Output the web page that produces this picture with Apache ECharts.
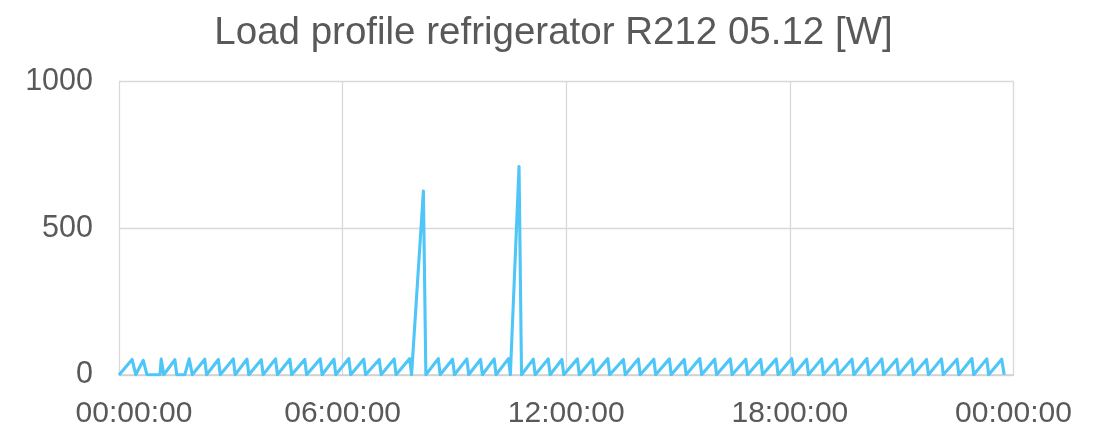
<!DOCTYPE html>
<html>
<head>
<meta charset="utf-8">
<script src="https://cdn.jsdelivr.net/npm/echarts@6/dist/echarts.min.js"></script>
<style>
  html, body { margin: 0; padding: 0; background: #fff; }
  #chart { width: 1107px; height: 430px; }
</style>
</head>
<body>
<div id="chart"></div>
<script>
// Time of each sample, minutes after midnight
const minutes = [
  0, 21, 27, 39, 45, 66, 68, 72, 90, 93, 106, 113, 118,
  138, 141, 160, 163, 184, 187, 206, 209, 229, 232, 252, 255, 275, 278, 299, 302,
  324, 327, 346, 349, 370, 373, 394, 397, 419, 422, 443, 446, 468, 471,
  490, 494,
  514, 517, 537, 540, 560, 563, 582, 585, 604, 607, 627, 630,
  644, 648,
  667, 670, 691, 694, 713, 716, 738, 741, 762, 765, 787, 790, 812, 815, 836, 839,
  861, 864, 886, 889, 910, 913, 935, 938, 959, 962, 984, 987, 1009, 1012, 1033, 1036,
  1058, 1061, 1083, 1086, 1107, 1110, 1131, 1134, 1155, 1158, 1180, 1183, 1204, 1207,
  1228, 1231, 1252, 1255, 1276, 1279, 1300, 1303, 1324, 1327, 1349, 1352, 1373, 1376,
  1397, 1400, 1421, 1425
];
// Power [W] at each sample
const watts = [
  0, 53, 1, 50, 1, 1, 54, 1, 52, 1, 1, 55, 1,
  54, 1, 53, 1, 55, 1, 54, 1, 52, 1, 55, 1, 54, 1, 53, 1,
  55, 1, 54, 1, 56, 1, 54, 1, 53, 1, 55, 1, 56, 1,
  627, 1,
  56, 1, 54, 1, 55, 1, 53, 1, 55, 1, 56, 1,
  711, 1,
  54, 1, 55, 1, 53, 1, 55, 1, 54, 1, 56, 1, 53, 1, 55, 1,
  54, 1, 55, 1, 53, 1, 56, 1, 54, 1, 55, 1, 54, 1, 53, 1,
  55, 1, 56, 1, 54, 1, 55, 1, 53, 1, 54, 1, 56, 1,
  55, 1, 54, 1, 55, 1, 53, 1, 55, 1, 54, 1, 56, 1,
  55, 1, 54, 1
];
const xTickLabels = ['00:00:00', '06:00:00', '12:00:00', '18:00:00', '00:00:00'];
const yTicks = [0, 500, 1000];
const titleText = 'Load profile refrigerator R212 05.12 [W]';

const seriesData = minutes.map((m, i) => [m, watts[i]]);
const FONT = '"Liberation Sans", Arial, sans-serif';

const chart = echarts.init(document.getElementById('chart'), null, { renderer: 'canvas' });
chart.setOption({
  animation: false,
  backgroundColor: '#ffffff',
  title: {
    text: titleText,
    left: 'center',
    top: 9,
    textStyle: { fontFamily: FONT, fontSize: 38.5, fontWeight: 'normal', color: '#595959' }
  },
  grid: { left: 119, right: 93.5, top: 81.7, bottom: 55, containLabel: false },
  xAxis: {
    type: 'value',
    min: 0,
    max: 1440,
    interval: 360,
    axisLine: { show: true, lineStyle: { color: '#d0d0d0', width: 1.5 } },
    axisTick: { show: false },
    splitLine: { show: true, lineStyle: { color: '#d9d9d9', width: 1.3 } },
    axisLabel: {
      margin: 24,
      fontFamily: FONT, fontSize: 30, color: '#595959',
      formatter: v => {
        const i = Math.round(v / 360);
        return i === 0 ? '{first|' + xTickLabels[i] + '}' : xTickLabels[i];
      },
      rich: {
        first: { fontFamily: FONT, fontSize: 30, color: '#595959', padding: [0, 0, 0, 30] }
      }
    }
  },
  yAxis: {
    type: 'value',
    min: yTicks[0],
    max: yTicks[yTicks.length - 1],
    interval: 500,
    axisLine: { show: false },
    axisTick: { show: false },
    splitLine: { show: true, lineStyle: { color: '#d9d9d9', width: 1.3 } },
    axisLabel: {
      margin: 26, fontFamily: FONT, fontSize: 30.5, color: '#595959',
      formatter: v => String(v)
    }
  },
  series: [{
    type: 'line',
    data: seriesData,
    showSymbol: false,
    symbol: 'none',
    lineStyle: { color: '#4fc6f8', width: 3.1, join: 'round' },
    itemStyle: { color: '#4fc6f8' }
  }]
});
</script>
</body>
</html>
